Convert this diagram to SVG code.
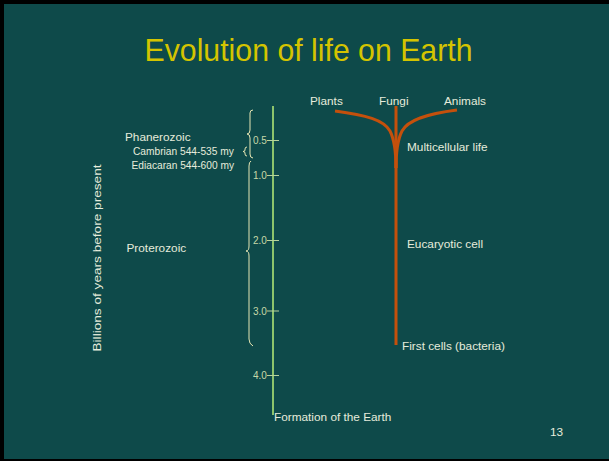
<svg xmlns="http://www.w3.org/2000/svg" width="609" height="461" viewBox="0 0 609 461">
<style>
text{font-family:"Liberation Sans",Arial,sans-serif;fill:#e6ecdc}
.title{fill:#d4c400;font-size:32px}
.lbl{font-size:11.8px}
.sm{font-size:10.2px}
.tick{font-size:10px;fill:#c6d8a8}
.brace{fill:none;stroke:#e6e6b4;stroke-width:1}
.axis{stroke:#8cc46c;stroke-width:2;fill:none}
.tk{stroke:#b8d49c;stroke-width:1.2}
.tree{fill:none;stroke:#c4500c;stroke-width:3;stroke-linecap:butt}
</style>
<rect x="0" y="0" width="609" height="461" fill="#000"/>
<rect x="4" y="4" width="605" height="455" fill="#0e4a4a"/>
<text class="title" x="308.5" y="61" text-anchor="middle" textLength="328" lengthAdjust="spacingAndGlyphs">Evolution of life on Earth</text>

<g id="ylabel"><text class="lbl" transform="translate(101,258) rotate(-90)" text-anchor="middle" font-size="12.5" textLength="187" lengthAdjust="spacingAndGlyphs">Billions of years before present</text></g>

<g id="axis">
<path class="axis" d="M273,106 V415"/>
<path class="tk" d="M267,140.5 H279 M267,175.5 H279 M267,240.5 H279 M267,311 H279 M267,375.5 H279"/>
<text class="tick" x="253" y="144">0.5</text>
<text class="tick" x="253" y="179">1.0</text>
<text class="tick" x="253" y="244">2.0</text>
<text class="tick" x="253" y="315">3.0</text>
<text class="tick" x="253" y="379">4.0</text>
<text class="lbl" x="274" y="420.5">Formation of the Earth</text>
</g>

<g id="phanerozoic">
<path class="brace" d="M253,110 Q250,110 250,113 V130 Q250,134 247,134 Q250,134 250,138 V154 Q250,158 253,158"/>
<text class="lbl" x="125" y="140.5">Phanerozoic</text>
</g>
<g id="cambrian">
<path class="brace" d="M247,147 Q245,147 245,149 V150 Q245,151.5 243,151.5 Q245,151.5 245,153 V154 Q245,156 247,156"/>
<text class="sm" x="133" y="154.5">Cambrian 544-535 my</text>
<text class="sm" x="131.5" y="168.5">Ediacaran 544-600 my</text>
</g>
<g id="proterozoic">
<path class="brace" d="M251,161 Q249,162 249,166 V246 Q249,251 246,251 Q249,251 249,256 V339 Q249,344 253,346"/>
<text class="lbl" x="126.5" y="251.5">Proterozoic</text>
</g>

<g id="tree">
<path class="tree" d="M396,106 V345"/>
<path class="tree" d="M335,111 C366,115 384,120 390,131 C395,141 396,152 396,168"/>
<path class="tree" d="M457,110 C426,114 408,120 402,131 C397,141 396,152 396,168"/>
<text class="lbl" x="310" y="104.5">Plants</text>
<text class="lbl" x="379" y="104.5">Fungi</text>
<text class="lbl" x="444" y="104.5">Animals</text>
<text class="lbl" x="407" y="150.5">Multicellular life</text>
<text class="lbl" x="407" y="248">Eucaryotic cell</text>
<text class="lbl" x="402" y="349.5">First cells (bacteria)</text>
</g>
<text class="lbl" x="550" y="436" font-size="11.4">13</text>
</svg>
